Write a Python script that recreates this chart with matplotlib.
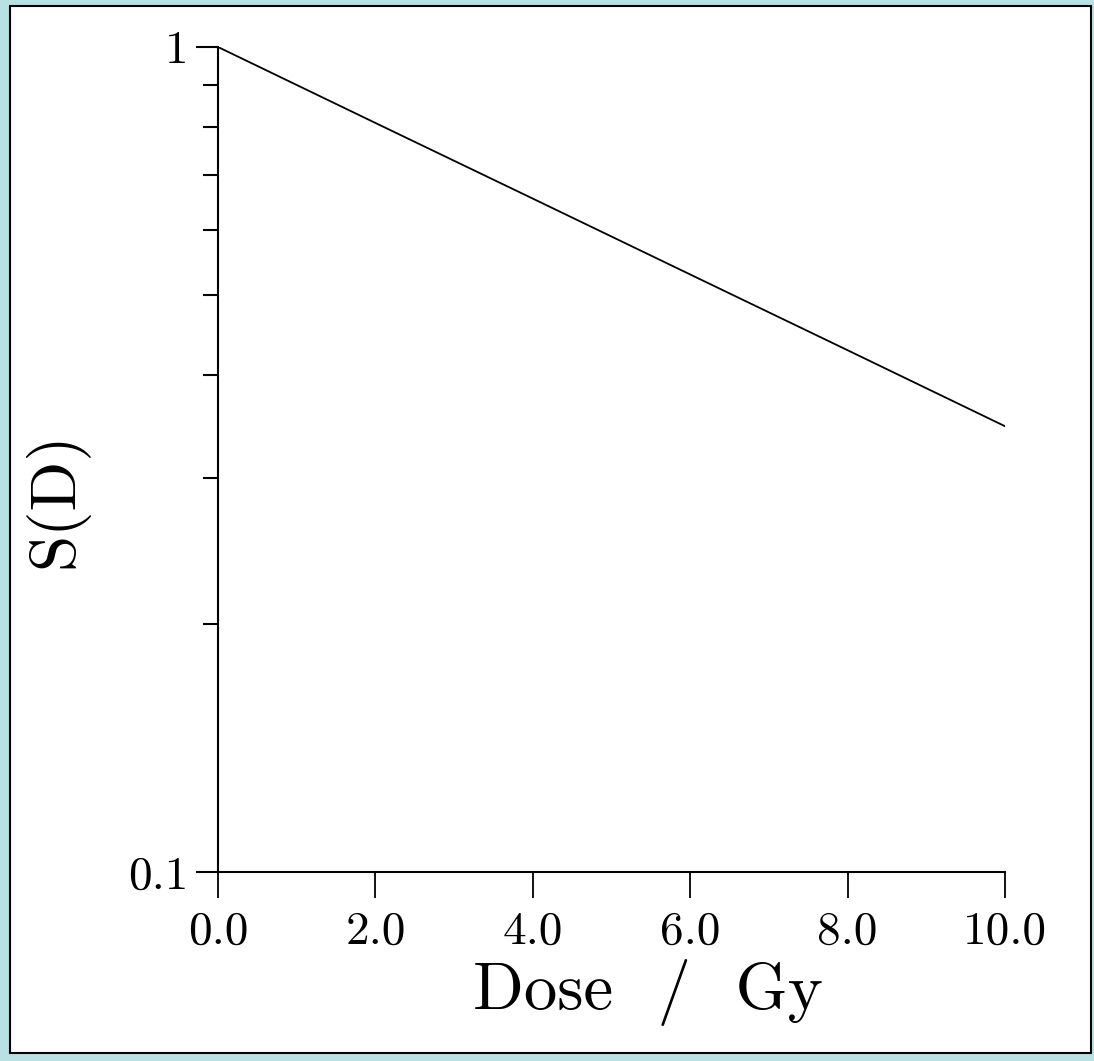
import matplotlib
matplotlib.use("Agg")
import matplotlib.pyplot as plt
from matplotlib.patches import Rectangle
from matplotlib.ticker import FixedLocator, NullFormatter

dose = [0.0, 2.0, 4.0, 6.0, 8.0, 10.0]
survival = [1.0, 0.809, 0.655, 0.530, 0.429, 0.347]

x_ticks = [0.0, 2.0, 4.0, 6.0, 8.0, 10.0]
x_tick_labels = ["0.0", "2.0", "4.0", "6.0", "8.0", "10.0"]
y_ticks = [0.1, 1.0]
y_tick_labels = ["0.1", "1"]
y_minor = [0.2, 0.3, 0.4, 0.5, 0.6, 0.7, 0.8, 0.9]

plt.rcParams['font.family'] = ['cmr10', 'DejaVu Serif']
plt.rcParams['axes.unicode_minus'] = False

W, H = 1094, 1061
fig = plt.figure(figsize=(W / 100, H / 100), dpi=100)
fig.patch.set_facecolor('#b9e0e3')

panel = Rectangle((10 / W, (H - 1053) / H), (1091 - 10) / W, (1053 - 6) / H,
                  transform=fig.transFigure, facecolor='white', edgecolor='black',
                  linewidth=1.5, zorder=-5)
fig.patches.append(panel)

ax = fig.add_axes([218 / W, (H - 872) / H, (1005 - 218) / W, (872 - 47) / H])
ax.set_zorder(5)
ax.set_facecolor('none')
ax.plot(dose, survival, color='black', linewidth=1.3)

ax.set_yscale('log')
ax.set_xlim(0, 10)
ax.set_ylim(0.1, 1.0)

for s in ['top', 'right']:
    ax.spines[s].set_visible(False)
for s in ['left', 'bottom']:
    ax.spines[s].set_linewidth(1.5)

ax.set_xticks(x_ticks)
ax.set_xticklabels(x_tick_labels)
ax.xaxis.set_minor_locator(FixedLocator([]))
ax.yaxis.set_major_locator(FixedLocator(y_ticks))
ax.set_yticklabels(y_tick_labels)
ax.yaxis.set_minor_locator(FixedLocator(y_minor))
ax.yaxis.set_minor_formatter(NullFormatter())

ax.tick_params(axis='x', which='major', direction='out', length=19, width=1.3,
               labelsize=34, pad=9)
ax.tick_params(axis='y', which='major', direction='out', length=16, width=1.5,
               labelsize=34, pad=5)
ax.tick_params(axis='y', which='minor', direction='out', length=11, width=1.5)

fig.text(648 / W, 1 - 992 / H, "Dose  /  Gy", fontsize=48, ha='center', va='center')
fig.text(56 / W, 1 - 500 / H, "S(D)", fontsize=47, ha='center', va='center',
         rotation=90)

fig.savefig("out.png", dpi=100, facecolor=fig.get_facecolor())
